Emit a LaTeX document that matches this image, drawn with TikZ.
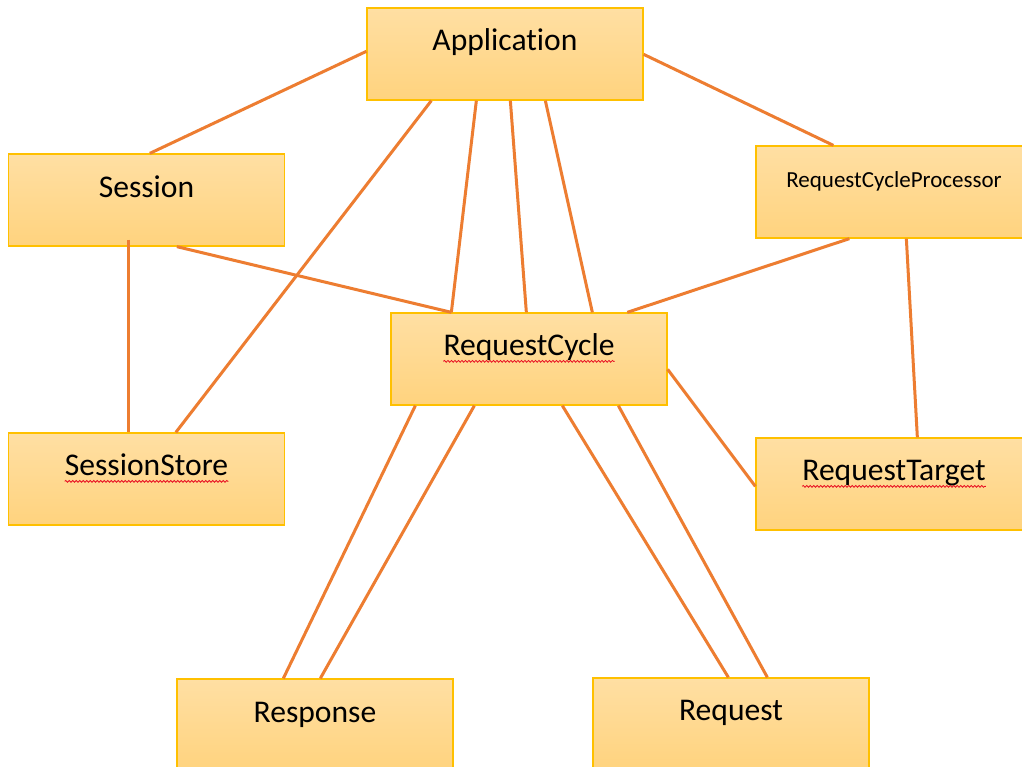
\documentclass[tikz,border=0pt]{standalone}
\usepackage{fontspec}
\setmainfont{Carlito}[Ligatures=NoCommon]
\usetikzlibrary{decorations.pathmorphing}
\definecolor{boxtop}{HTML}{FFDFA3}
\definecolor{boxbot}{HTML}{FFD37E}
\definecolor{boxedge}{HTML}{FFC000}
\definecolor{linkcol}{HTML}{ED7D31}
\definecolor{spellred}{HTML}{E81123}
\tikzset{
  box/.style={rectangle, draw=boxedge, line width=1.3pt, top color=boxtop,
    bottom color=boxbot, minimum width=276pt, minimum height=92pt, inner sep=0pt},
  lbl/.style={anchor=base, inner sep=0pt, font=\fontsize{31.6}{36}\selectfont},
  smalllbl/.style={anchor=base, inner sep=0pt, font=\fontsize{23}{28}\selectfont},
  link/.style={draw=linkcol, line width=3pt},
  squiggle/.style={draw=spellred, line width=0.8pt,
    decorate, decoration={snake, amplitude=0.9pt, segment length=3.5pt}}
}
\begin{document}
\begin{tikzpicture}[x=1pt, y=-1pt]
\useasboundingbox (0,0) rectangle (1022,767);
\clip (0,0) rectangle (1022,767);
\fill[white] (0,0) rectangle (1022,767);

% boxes
\node[box] (app)  at (505,54)    {};
\node[box] (ses)  at (146.5,200) {};
\node[box] (rcp)  at (894,192)   {};
\node[box] (rc)   at (529,359)   {};
\node[box] (sst)  at (146.5,479) {};
\node[box] (rt)   at (894,484)   {};
\node[box] (resp) at (315,725)   {};
\node[box] (req)  at (731,724)   {};

% labels
\node[lbl] (appT)  at ([yshift=-43pt]app.north)  {Application};
\node[lbl] (sesT)  at ([yshift=-44pt]ses.north)  {Session};
\node[smalllbl] (rcpT) at ([yshift=-42pt]rcp.north) {RequestCycleProcessor};
\node[lbl] (rcT)   at ([yshift=-43pt]rc.north)   {RequestCycle};
\node[lbl] (sstT)  at ([yshift=-43pt]sst.north)  {SessionStore};
\node[lbl] (rtT)   at ([yshift=-43pt]rt.north)   {RequestTarget};
\node[lbl] (respT) at ([yshift=-44pt]resp.north) {Response};
\node[lbl] (reqT)  at ([yshift=-43pt]req.north)  {Request};

% spell-check underlines
\draw[squiggle] ([yshift=-6pt]rcT.base west)  -- ([yshift=-6pt]rcT.base east);
\draw[squiggle] ([yshift=-6pt]sstT.base west) -- ([yshift=-6pt]sstT.base east);
\draw[squiggle] ([yshift=-6pt]rtT.base west)  -- ([yshift=-6pt]rtT.base east);

% connectors
\draw[link] ([yshift=-44pt]app.north west) -- ([xshift=142pt]ses.north west);
\draw[link] ([xshift=65pt]app.south west)  -- ([xshift=168pt]sst.north west);
\draw[link] ([xshift=110pt]app.south west) -- ([xshift=61pt]rc.north west);
\draw[link] ([xshift=144pt]app.south west) -- ([xshift=136pt]rc.north west);
\draw[link] ([xshift=179pt]app.south west) -- ([xshift=202pt]rc.north west);
\draw[link] ([yshift=-47pt]app.north east) -- ([xshift=78pt]rcp.north west);
\draw[link] ([xshift=121pt,yshift=7pt]ses.south west) -- ([xshift=121pt]sst.north west);
\draw[link] ([xshift=169pt]ses.south west) -- ([xshift=61pt]rc.north west);
\draw[link] ([xshift=94pt]rcp.south west)  -- ([xshift=237pt]rc.north west);
\draw[link] ([xshift=151pt]rcp.south west) -- ([xshift=162pt]rt.north west);
\draw[link] ([yshift=-57pt]rc.north east)  -- ([yshift=-49pt]rt.north west);
\draw[link] ([xshift=25pt]rc.south west)   -- ([xshift=107pt]resp.north west);
\draw[link] ([xshift=84pt]rc.south west)   -- ([xshift=144pt]resp.north west);
\draw[link] ([xshift=172pt]rc.south west)  -- ([xshift=136pt]req.north west);
\draw[link] ([xshift=228pt]rc.south west)  -- ([xshift=175pt]req.north west);
\end{tikzpicture}
\end{document}
